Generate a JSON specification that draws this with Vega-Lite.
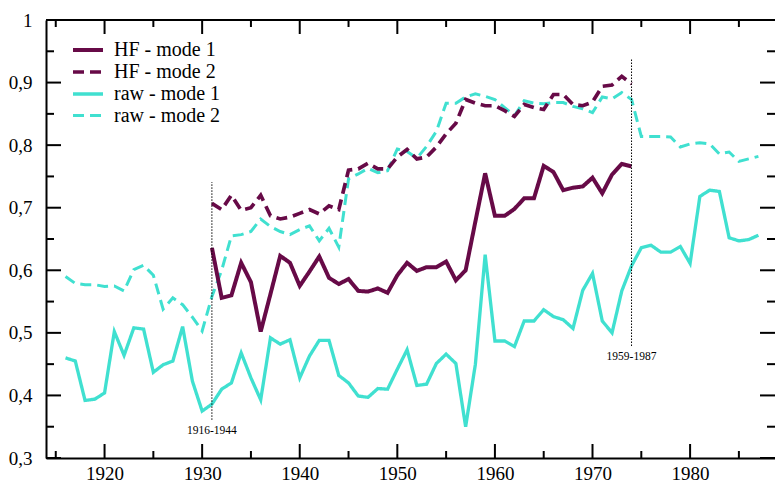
{
  "$schema": "https://vega.github.io/schema/vega-lite/v6.json",
  "autosize": "none",
  "width": 729,
  "height": 438,
  "padding": {"left": 46, "top": 20, "right": 0, "bottom": 24},
  "view": {"stroke": null},
  "config": {"legend": {"labelFont": "Liberation Serif"}},
  "datasets": {
    "series": [
      {"year": 1916, "value": 0.46, "series": "raw - mode 1"},
      {"year": 1917, "value": 0.455, "series": "raw - mode 1"},
      {"year": 1918, "value": 0.392, "series": "raw - mode 1"},
      {"year": 1919, "value": 0.394, "series": "raw - mode 1"},
      {"year": 1920, "value": 0.404, "series": "raw - mode 1"},
      {"year": 1921, "value": 0.502, "series": "raw - mode 1"},
      {"year": 1922, "value": 0.464, "series": "raw - mode 1"},
      {"year": 1923, "value": 0.508, "series": "raw - mode 1"},
      {"year": 1924, "value": 0.506, "series": "raw - mode 1"},
      {"year": 1925, "value": 0.437, "series": "raw - mode 1"},
      {"year": 1926, "value": 0.449, "series": "raw - mode 1"},
      {"year": 1927, "value": 0.455, "series": "raw - mode 1"},
      {"year": 1928, "value": 0.51, "series": "raw - mode 1"},
      {"year": 1929, "value": 0.423, "series": "raw - mode 1"},
      {"year": 1930, "value": 0.375, "series": "raw - mode 1"},
      {"year": 1931, "value": 0.386, "series": "raw - mode 1"},
      {"year": 1932, "value": 0.41, "series": "raw - mode 1"},
      {"year": 1933, "value": 0.42, "series": "raw - mode 1"},
      {"year": 1934, "value": 0.468, "series": "raw - mode 1"},
      {"year": 1935, "value": 0.428, "series": "raw - mode 1"},
      {"year": 1936, "value": 0.393, "series": "raw - mode 1"},
      {"year": 1937, "value": 0.492, "series": "raw - mode 1"},
      {"year": 1938, "value": 0.482, "series": "raw - mode 1"},
      {"year": 1939, "value": 0.489, "series": "raw - mode 1"},
      {"year": 1940, "value": 0.428, "series": "raw - mode 1"},
      {"year": 1941, "value": 0.463, "series": "raw - mode 1"},
      {"year": 1942, "value": 0.488, "series": "raw - mode 1"},
      {"year": 1943, "value": 0.488, "series": "raw - mode 1"},
      {"year": 1944, "value": 0.432, "series": "raw - mode 1"},
      {"year": 1945, "value": 0.42, "series": "raw - mode 1"},
      {"year": 1946, "value": 0.399, "series": "raw - mode 1"},
      {"year": 1947, "value": 0.397, "series": "raw - mode 1"},
      {"year": 1948, "value": 0.411, "series": "raw - mode 1"},
      {"year": 1949, "value": 0.41, "series": "raw - mode 1"},
      {"year": 1950, "value": 0.442, "series": "raw - mode 1"},
      {"year": 1951, "value": 0.473, "series": "raw - mode 1"},
      {"year": 1952, "value": 0.416, "series": "raw - mode 1"},
      {"year": 1953, "value": 0.418, "series": "raw - mode 1"},
      {"year": 1954, "value": 0.451, "series": "raw - mode 1"},
      {"year": 1955, "value": 0.466, "series": "raw - mode 1"},
      {"year": 1956, "value": 0.451, "series": "raw - mode 1"},
      {"year": 1957, "value": 0.35, "series": "raw - mode 1"},
      {"year": 1958, "value": 0.45, "series": "raw - mode 1"},
      {"year": 1959, "value": 0.625, "series": "raw - mode 1"},
      {"year": 1960, "value": 0.487, "series": "raw - mode 1"},
      {"year": 1961, "value": 0.487, "series": "raw - mode 1"},
      {"year": 1962, "value": 0.478, "series": "raw - mode 1"},
      {"year": 1963, "value": 0.519, "series": "raw - mode 1"},
      {"year": 1964, "value": 0.519, "series": "raw - mode 1"},
      {"year": 1965, "value": 0.537, "series": "raw - mode 1"},
      {"year": 1966, "value": 0.526, "series": "raw - mode 1"},
      {"year": 1967, "value": 0.521, "series": "raw - mode 1"},
      {"year": 1968, "value": 0.507, "series": "raw - mode 1"},
      {"year": 1969, "value": 0.568, "series": "raw - mode 1"},
      {"year": 1970, "value": 0.595, "series": "raw - mode 1"},
      {"year": 1971, "value": 0.519, "series": "raw - mode 1"},
      {"year": 1972, "value": 0.5, "series": "raw - mode 1"},
      {"year": 1973, "value": 0.567, "series": "raw - mode 1"},
      {"year": 1974, "value": 0.607, "series": "raw - mode 1"},
      {"year": 1975, "value": 0.636, "series": "raw - mode 1"},
      {"year": 1976, "value": 0.64, "series": "raw - mode 1"},
      {"year": 1977, "value": 0.629, "series": "raw - mode 1"},
      {"year": 1978, "value": 0.629, "series": "raw - mode 1"},
      {"year": 1979, "value": 0.638, "series": "raw - mode 1"},
      {"year": 1980, "value": 0.611, "series": "raw - mode 1"},
      {"year": 1981, "value": 0.718, "series": "raw - mode 1"},
      {"year": 1982, "value": 0.728, "series": "raw - mode 1"},
      {"year": 1983, "value": 0.726, "series": "raw - mode 1"},
      {"year": 1984, "value": 0.652, "series": "raw - mode 1"},
      {"year": 1985, "value": 0.647, "series": "raw - mode 1"},
      {"year": 1986, "value": 0.649, "series": "raw - mode 1"},
      {"year": 1987, "value": 0.656, "series": "raw - mode 1"},

      {"year": 1916, "value": 0.59, "series": "raw - mode 2"},
      {"year": 1917, "value": 0.579, "series": "raw - mode 2"},
      {"year": 1918, "value": 0.577, "series": "raw - mode 2"},
      {"year": 1919, "value": 0.577, "series": "raw - mode 2"},
      {"year": 1920, "value": 0.574, "series": "raw - mode 2"},
      {"year": 1921, "value": 0.575, "series": "raw - mode 2"},
      {"year": 1922, "value": 0.567, "series": "raw - mode 2"},
      {"year": 1923, "value": 0.601, "series": "raw - mode 2"},
      {"year": 1924, "value": 0.608, "series": "raw - mode 2"},
      {"year": 1925, "value": 0.592, "series": "raw - mode 2"},
      {"year": 1926, "value": 0.538, "series": "raw - mode 2"},
      {"year": 1927, "value": 0.556, "series": "raw - mode 2"},
      {"year": 1928, "value": 0.545, "series": "raw - mode 2"},
      {"year": 1929, "value": 0.525, "series": "raw - mode 2"},
      {"year": 1930, "value": 0.503, "series": "raw - mode 2"},
      {"year": 1931, "value": 0.558, "series": "raw - mode 2"},
      {"year": 1932, "value": 0.6, "series": "raw - mode 2"},
      {"year": 1933, "value": 0.655, "series": "raw - mode 2"},
      {"year": 1934, "value": 0.657, "series": "raw - mode 2"},
      {"year": 1935, "value": 0.662, "series": "raw - mode 2"},
      {"year": 1936, "value": 0.682, "series": "raw - mode 2"},
      {"year": 1937, "value": 0.67, "series": "raw - mode 2"},
      {"year": 1938, "value": 0.662, "series": "raw - mode 2"},
      {"year": 1939, "value": 0.657, "series": "raw - mode 2"},
      {"year": 1940, "value": 0.665, "series": "raw - mode 2"},
      {"year": 1941, "value": 0.671, "series": "raw - mode 2"},
      {"year": 1942, "value": 0.647, "series": "raw - mode 2"},
      {"year": 1943, "value": 0.667, "series": "raw - mode 2"},
      {"year": 1944, "value": 0.637, "series": "raw - mode 2"},
      {"year": 1945, "value": 0.746, "series": "raw - mode 2"},
      {"year": 1946, "value": 0.754, "series": "raw - mode 2"},
      {"year": 1947, "value": 0.763, "series": "raw - mode 2"},
      {"year": 1948, "value": 0.756, "series": "raw - mode 2"},
      {"year": 1949, "value": 0.759, "series": "raw - mode 2"},
      {"year": 1950, "value": 0.794, "series": "raw - mode 2"},
      {"year": 1951, "value": 0.79, "series": "raw - mode 2"},
      {"year": 1952, "value": 0.779, "series": "raw - mode 2"},
      {"year": 1953, "value": 0.798, "series": "raw - mode 2"},
      {"year": 1954, "value": 0.822, "series": "raw - mode 2"},
      {"year": 1955, "value": 0.867, "series": "raw - mode 2"},
      {"year": 1956, "value": 0.867, "series": "raw - mode 2"},
      {"year": 1957, "value": 0.877, "series": "raw - mode 2"},
      {"year": 1958, "value": 0.882, "series": "raw - mode 2"},
      {"year": 1959, "value": 0.878, "series": "raw - mode 2"},
      {"year": 1960, "value": 0.873, "series": "raw - mode 2"},
      {"year": 1961, "value": 0.86, "series": "raw - mode 2"},
      {"year": 1962, "value": 0.847, "series": "raw - mode 2"},
      {"year": 1963, "value": 0.871, "series": "raw - mode 2"},
      {"year": 1964, "value": 0.867, "series": "raw - mode 2"},
      {"year": 1965, "value": 0.866, "series": "raw - mode 2"},
      {"year": 1966, "value": 0.868, "series": "raw - mode 2"},
      {"year": 1967, "value": 0.868, "series": "raw - mode 2"},
      {"year": 1968, "value": 0.862, "series": "raw - mode 2"},
      {"year": 1969, "value": 0.858, "series": "raw - mode 2"},
      {"year": 1970, "value": 0.852, "series": "raw - mode 2"},
      {"year": 1971, "value": 0.877, "series": "raw - mode 2"},
      {"year": 1972, "value": 0.874, "series": "raw - mode 2"},
      {"year": 1973, "value": 0.884, "series": "raw - mode 2"},
      {"year": 1974, "value": 0.873, "series": "raw - mode 2"},
      {"year": 1975, "value": 0.814, "series": "raw - mode 2"},
      {"year": 1976, "value": 0.814, "series": "raw - mode 2"},
      {"year": 1977, "value": 0.814, "series": "raw - mode 2"},
      {"year": 1978, "value": 0.813, "series": "raw - mode 2"},
      {"year": 1979, "value": 0.797, "series": "raw - mode 2"},
      {"year": 1980, "value": 0.802, "series": "raw - mode 2"},
      {"year": 1981, "value": 0.804, "series": "raw - mode 2"},
      {"year": 1982, "value": 0.802, "series": "raw - mode 2"},
      {"year": 1983, "value": 0.786, "series": "raw - mode 2"},
      {"year": 1984, "value": 0.789, "series": "raw - mode 2"},
      {"year": 1985, "value": 0.774, "series": "raw - mode 2"},
      {"year": 1986, "value": 0.778, "series": "raw - mode 2"},
      {"year": 1987, "value": 0.782, "series": "raw - mode 2"},

      {"year": 1931, "value": 0.636, "series": "HF - mode 1"},
      {"year": 1932, "value": 0.556, "series": "HF - mode 1"},
      {"year": 1933, "value": 0.56, "series": "HF - mode 1"},
      {"year": 1934, "value": 0.612, "series": "HF - mode 1"},
      {"year": 1935, "value": 0.581, "series": "HF - mode 1"},
      {"year": 1936, "value": 0.502, "series": "HF - mode 1"},
      {"year": 1937, "value": 0.562, "series": "HF - mode 1"},
      {"year": 1938, "value": 0.623, "series": "HF - mode 1"},
      {"year": 1939, "value": 0.612, "series": "HF - mode 1"},
      {"year": 1940, "value": 0.575, "series": "HF - mode 1"},
      {"year": 1941, "value": 0.598, "series": "HF - mode 1"},
      {"year": 1942, "value": 0.622, "series": "HF - mode 1"},
      {"year": 1943, "value": 0.588, "series": "HF - mode 1"},
      {"year": 1944, "value": 0.578, "series": "HF - mode 1"},
      {"year": 1945, "value": 0.586, "series": "HF - mode 1"},
      {"year": 1946, "value": 0.567, "series": "HF - mode 1"},
      {"year": 1947, "value": 0.566, "series": "HF - mode 1"},
      {"year": 1948, "value": 0.571, "series": "HF - mode 1"},
      {"year": 1949, "value": 0.564, "series": "HF - mode 1"},
      {"year": 1950, "value": 0.592, "series": "HF - mode 1"},
      {"year": 1951, "value": 0.612, "series": "HF - mode 1"},
      {"year": 1952, "value": 0.599, "series": "HF - mode 1"},
      {"year": 1953, "value": 0.605, "series": "HF - mode 1"},
      {"year": 1954, "value": 0.605, "series": "HF - mode 1"},
      {"year": 1955, "value": 0.614, "series": "HF - mode 1"},
      {"year": 1956, "value": 0.584, "series": "HF - mode 1"},
      {"year": 1957, "value": 0.6, "series": "HF - mode 1"},
      {"year": 1958, "value": 0.678, "series": "HF - mode 1"},
      {"year": 1959, "value": 0.755, "series": "HF - mode 1"},
      {"year": 1960, "value": 0.687, "series": "HF - mode 1"},
      {"year": 1961, "value": 0.687, "series": "HF - mode 1"},
      {"year": 1962, "value": 0.698, "series": "HF - mode 1"},
      {"year": 1963, "value": 0.715, "series": "HF - mode 1"},
      {"year": 1964, "value": 0.715, "series": "HF - mode 1"},
      {"year": 1965, "value": 0.767, "series": "HF - mode 1"},
      {"year": 1966, "value": 0.757, "series": "HF - mode 1"},
      {"year": 1967, "value": 0.728, "series": "HF - mode 1"},
      {"year": 1968, "value": 0.732, "series": "HF - mode 1"},
      {"year": 1969, "value": 0.734, "series": "HF - mode 1"},
      {"year": 1970, "value": 0.748, "series": "HF - mode 1"},
      {"year": 1971, "value": 0.723, "series": "HF - mode 1"},
      {"year": 1972, "value": 0.753, "series": "HF - mode 1"},
      {"year": 1973, "value": 0.77, "series": "HF - mode 1"},
      {"year": 1974, "value": 0.766, "series": "HF - mode 1"},

      {"year": 1931, "value": 0.707, "series": "HF - mode 2"},
      {"year": 1932, "value": 0.697, "series": "HF - mode 2"},
      {"year": 1933, "value": 0.72, "series": "HF - mode 2"},
      {"year": 1934, "value": 0.696, "series": "HF - mode 2"},
      {"year": 1935, "value": 0.7, "series": "HF - mode 2"},
      {"year": 1936, "value": 0.72, "series": "HF - mode 2"},
      {"year": 1937, "value": 0.687, "series": "HF - mode 2"},
      {"year": 1938, "value": 0.682, "series": "HF - mode 2"},
      {"year": 1939, "value": 0.685, "series": "HF - mode 2"},
      {"year": 1940, "value": 0.691, "series": "HF - mode 2"},
      {"year": 1941, "value": 0.697, "series": "HF - mode 2"},
      {"year": 1942, "value": 0.69, "series": "HF - mode 2"},
      {"year": 1943, "value": 0.703, "series": "HF - mode 2"},
      {"year": 1944, "value": 0.697, "series": "HF - mode 2"},
      {"year": 1945, "value": 0.76, "series": "HF - mode 2"},
      {"year": 1946, "value": 0.762, "series": "HF - mode 2"},
      {"year": 1947, "value": 0.771, "series": "HF - mode 2"},
      {"year": 1948, "value": 0.762, "series": "HF - mode 2"},
      {"year": 1949, "value": 0.762, "series": "HF - mode 2"},
      {"year": 1950, "value": 0.781, "series": "HF - mode 2"},
      {"year": 1951, "value": 0.793, "series": "HF - mode 2"},
      {"year": 1952, "value": 0.778, "series": "HF - mode 2"},
      {"year": 1953, "value": 0.781, "series": "HF - mode 2"},
      {"year": 1954, "value": 0.797, "series": "HF - mode 2"},
      {"year": 1955, "value": 0.818, "series": "HF - mode 2"},
      {"year": 1956, "value": 0.835, "series": "HF - mode 2"},
      {"year": 1957, "value": 0.873, "series": "HF - mode 2"},
      {"year": 1958, "value": 0.867, "series": "HF - mode 2"},
      {"year": 1959, "value": 0.863, "series": "HF - mode 2"},
      {"year": 1960, "value": 0.863, "series": "HF - mode 2"},
      {"year": 1961, "value": 0.855, "series": "HF - mode 2"},
      {"year": 1962, "value": 0.846, "series": "HF - mode 2"},
      {"year": 1963, "value": 0.865, "series": "HF - mode 2"},
      {"year": 1964, "value": 0.86, "series": "HF - mode 2"},
      {"year": 1965, "value": 0.857, "series": "HF - mode 2"},
      {"year": 1966, "value": 0.881, "series": "HF - mode 2"},
      {"year": 1967, "value": 0.881, "series": "HF - mode 2"},
      {"year": 1968, "value": 0.865, "series": "HF - mode 2"},
      {"year": 1969, "value": 0.863, "series": "HF - mode 2"},
      {"year": 1970, "value": 0.869, "series": "HF - mode 2"},
      {"year": 1971, "value": 0.894, "series": "HF - mode 2"},
      {"year": 1972, "value": 0.896, "series": "HF - mode 2"},
      {"year": 1973, "value": 0.91, "series": "HF - mode 2"},
      {"year": 1974, "value": 0.898, "series": "HF - mode 2"}
    ],
    "windows": [
      {"year": 1931, "low": 0.361, "high": 0.741, "labelY": 0.343, "label": "1916-1944"},
      {"year": 1974, "low": 0.479, "high": 0.937, "labelY": 0.461, "label": "1959-1987"}
    ],
    "xticks": [
      {"year": 1915, "kind": "minor"}, {"year": 1920, "kind": "major"},
      {"year": 1925, "kind": "minor"}, {"year": 1930, "kind": "major"},
      {"year": 1935, "kind": "minor"}, {"year": 1940, "kind": "major"},
      {"year": 1945, "kind": "minor"}, {"year": 1950, "kind": "major"},
      {"year": 1955, "kind": "minor"}, {"year": 1960, "kind": "major"},
      {"year": 1965, "kind": "minor"}, {"year": 1970, "kind": "major"},
      {"year": 1975, "kind": "minor"}, {"year": 1980, "kind": "major"},
      {"year": 1985, "kind": "minor"}
    ],
    "yticks": [
      {"value": 0.3, "kind": "major"}, {"value": 0.35, "kind": "minor"},
      {"value": 0.4, "kind": "major"}, {"value": 0.45, "kind": "minor"},
      {"value": 0.5, "kind": "major"}, {"value": 0.55, "kind": "minor"},
      {"value": 0.6, "kind": "major"}, {"value": 0.65, "kind": "minor"},
      {"value": 0.7, "kind": "major"}, {"value": 0.75, "kind": "minor"},
      {"value": 0.8, "kind": "major"}, {"value": 0.85, "kind": "minor"},
      {"value": 0.9, "kind": "major"}, {"value": 0.95, "kind": "minor"},
      {"value": 1, "kind": "major"}
    ]
  },
  "layer": [
    {
      "data": {"name": "series"},
      "mark": {"type": "line", "clip": true},
      "encoding": {
        "x": {
          "field": "year", "type": "quantitative",
          "scale": {"domain": [1914, 1988.7], "nice": false, "zero": false},
          "axis": {
            "orient": "bottom", "title": null, "grid": false,
            "values": [1920, 1930, 1940, 1950, 1960, 1970, 1980],
            "domain": true, "domainColor": "black", "domainWidth": 2,
            "ticks": false,
            "labelExpr": "format(datum.value, 'd')",
            "labelFont": "Liberation Serif", "labelFontSize": 19, "labelColor": "black",
            "labelPadding": 6, "labelFlush": false, "labelOverlap": false
          }
        },
        "y": {
          "field": "value", "type": "quantitative",
          "scale": {"domain": [0.3, 1], "nice": false, "zero": false},
          "axis": {
            "orient": "left", "title": null, "grid": false,
            "values": [0.3, 0.4, 0.5, 0.6, 0.7, 0.8, 0.9, 1],
            "domain": true, "domainColor": "black", "domainWidth": 2,
            "ticks": false,
            "labelExpr": "datum.value == 1 ? '1' : replace(format(datum.value, '.1f'), '.', ',')",
            "labelFont": "Liberation Serif", "labelFontSize": 19, "labelColor": "black",
            "labelPadding": 14, "labelFlush": false, "labelOverlap": false
          }
        },
        "color": {
          "field": "series", "type": "nominal",
          "scale": {"domain": ["HF - mode 1", "HF - mode 2", "raw - mode 1", "raw - mode 2"], "range": ["#670a47", "#670a47", "#40e0d0", "#40e0d0"]},
          "legend": {
            "title": null, "orient": "none", "legendX": 30, "legendY": 18,
            "symbolType": "M-1.5,0H1.5", "symbolSize": 400, "symbolStrokeWidth": 3.5,
            "labelFont": "Liberation Serif", "labelFontSize": 20, "labelColor": "black",
            "labelOffset": 14, "rowPadding": -1, "labelLimit": 300
          }
        },
        "strokeDash": {
          "field": "series", "type": "nominal",
          "scale": {"domain": ["HF - mode 1", "HF - mode 2", "raw - mode 1", "raw - mode 2"], "range": [[1, 0], [11, 6], [1, 0], [11, 6]]},
          "legend": {
            "title": null, "orient": "none", "legendX": 30, "legendY": 18,
            "symbolType": "M-1.5,0H1.5", "symbolSize": 400, "symbolStrokeWidth": 3.5,
            "labelFont": "Liberation Serif", "labelFontSize": 20, "labelColor": "black",
            "labelOffset": 14, "rowPadding": -1, "labelLimit": 300
          }
        },
        "strokeWidth": {
          "field": "series", "type": "nominal",
          "scale": {"domain": ["HF - mode 1", "HF - mode 2", "raw - mode 1", "raw - mode 2"], "range": [4, 3, 4, 3]},
          "legend": null
        }
      }
    },
    {
      "data": {"name": "windows"},
      "mark": {"type": "rule", "color": "black", "strokeWidth": 1, "strokeDash": [1.5, 1.5]},
      "encoding": {
        "x": {"field": "year", "type": "quantitative"},
        "y": {"field": "low", "type": "quantitative"},
        "y2": {"field": "high"}
      }
    },
    {
      "data": {"name": "windows"},
      "mark": {"type": "text", "font": "Liberation Serif", "fontSize": 11.5, "color": "black", "align": "center", "baseline": "middle"},
      "encoding": {
        "x": {"field": "year", "type": "quantitative"},
        "y": {"field": "labelY", "type": "quantitative"},
        "text": {"field": "label"}
      }
    },
    {
      "data": {"values": [{"edge": "top"}]},
      "mark": {"type": "tick", "orient": "horizontal", "size": 729, "thickness": 2, "color": "black", "opacity": 1},
      "encoding": {
        "x": {"datum": 1951.35, "type": "quantitative"},
        "y": {"datum": 1, "type": "quantitative"}
      }
    },
    {
      "data": {"name": "xticks"},
      "transform": [{"filter": "datum.kind == 'major'"}],
      "mark": {"type": "tick", "orient": "vertical", "size": 14, "thickness": 2, "color": "black", "opacity": 1},
      "encoding": {
        "x": {"field": "year", "type": "quantitative"},
        "y": {"datum": 0.3112, "type": "quantitative"}
      }
    },
    {
      "data": {"name": "xticks"},
      "transform": [{"filter": "datum.kind == 'major'"}],
      "mark": {"type": "tick", "orient": "vertical", "size": 14, "thickness": 2, "color": "black", "opacity": 1},
      "encoding": {
        "x": {"field": "year", "type": "quantitative"},
        "y": {"datum": 0.9888, "type": "quantitative"}
      }
    },
    {
      "data": {"name": "xticks"},
      "transform": [{"filter": "datum.kind == 'minor'"}],
      "mark": {"type": "tick", "orient": "vertical", "size": 7, "thickness": 2, "color": "black", "opacity": 1},
      "encoding": {
        "x": {"field": "year", "type": "quantitative"},
        "y": {"datum": 0.3056, "type": "quantitative"}
      }
    },
    {
      "data": {"name": "xticks"},
      "transform": [{"filter": "datum.kind == 'minor'"}],
      "mark": {"type": "tick", "orient": "vertical", "size": 7, "thickness": 2, "color": "black", "opacity": 1},
      "encoding": {
        "x": {"field": "year", "type": "quantitative"},
        "y": {"datum": 0.9944, "type": "quantitative"}
      }
    },
    {
      "data": {"name": "yticks"},
      "transform": [{"filter": "datum.kind == 'major'"}],
      "mark": {"type": "tick", "orient": "horizontal", "size": 15, "thickness": 2, "color": "black", "opacity": 1},
      "encoding": {
        "y": {"field": "value", "type": "quantitative"},
        "x": {"datum": 1914.77, "type": "quantitative"}
      }
    },
    {
      "data": {"name": "yticks"},
      "transform": [{"filter": "datum.kind == 'major'"}],
      "mark": {"type": "tick", "orient": "horizontal", "size": 15, "thickness": 2, "color": "black", "opacity": 1},
      "encoding": {
        "y": {"field": "value", "type": "quantitative"},
        "x": {"datum": 1987.93, "type": "quantitative"}
      }
    },
    {
      "data": {"name": "yticks"},
      "transform": [{"filter": "datum.kind == 'minor'"}],
      "mark": {"type": "tick", "orient": "horizontal", "size": 8, "thickness": 2, "color": "black", "opacity": 1},
      "encoding": {
        "y": {"field": "value", "type": "quantitative"},
        "x": {"datum": 1914.41, "type": "quantitative"}
      }
    },
    {
      "data": {"name": "yticks"},
      "transform": [{"filter": "datum.kind == 'minor'"}],
      "mark": {"type": "tick", "orient": "horizontal", "size": 8, "thickness": 2, "color": "black", "opacity": 1},
      "encoding": {
        "y": {"field": "value", "type": "quantitative"},
        "x": {"datum": 1988.29, "type": "quantitative"}
      }
    }
  ]
}
